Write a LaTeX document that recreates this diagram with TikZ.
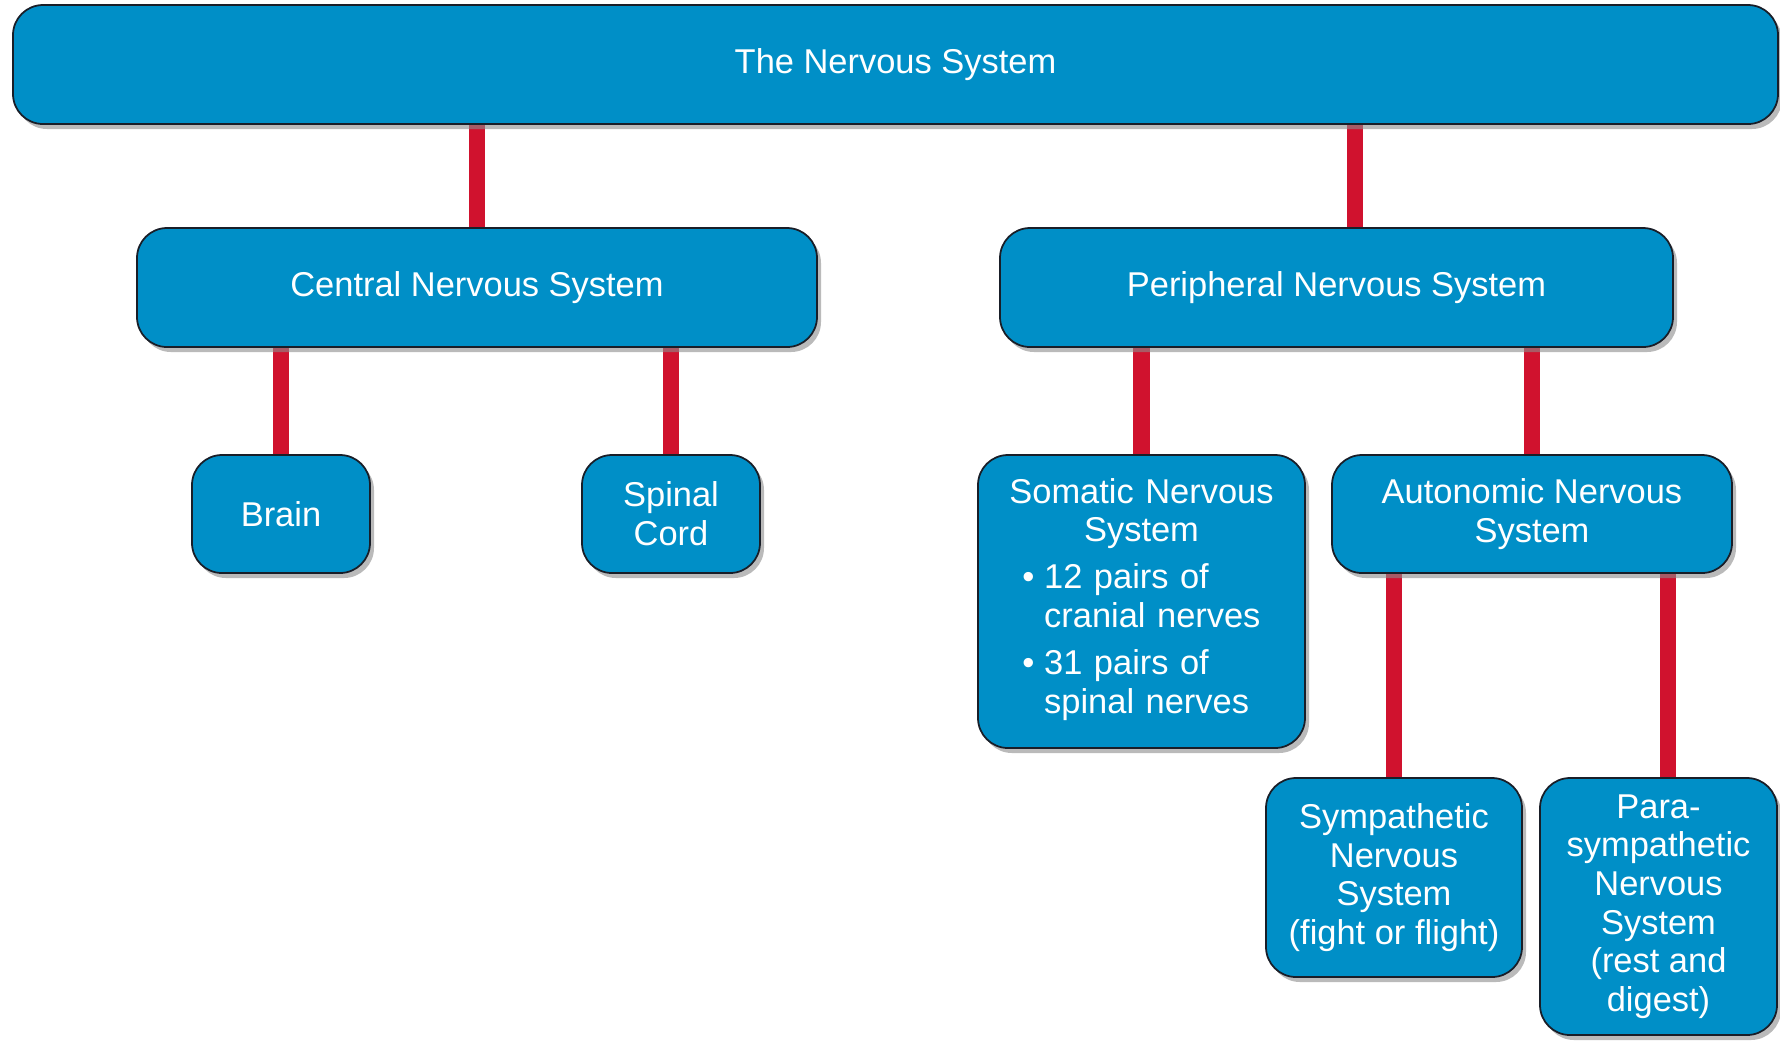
\documentclass[tikz,border=0pt]{standalone}
\usepackage{fontspec}
\setmainfont{Liberation Sans}
\usetikzlibrary{shadows,backgrounds}
\definecolor{nsblue}{RGB}{0,143,199}
\definecolor{nervered}{RGB}{208,18,46}
\definecolor{edge}{RGB}{25,30,40}
\tikzstyle{box} = [rectangle, rounded corners=0.3cm, fill=nsblue, draw=edge, line width=0.5pt, text=white, align=center, inner sep=0pt, font=\fontsize{9.8}{11}\selectfont, drop shadow={shadow xshift=0.4mm, shadow yshift=-0.5mm, fill=black!45, opacity=0.6}]
\tikzstyle{nerve} = [line width=4.6pt, draw=nervered]

\begin{document}
\begin{tikzpicture}

\useasboundingbox (0,0) rectangle (17.8,-10.41);

\node (top) [box, minimum width=17.65cm, minimum height=1.19cm] at (8.955,-0.645) {The Nervous System};
\node (cns) [box, minimum width=6.8cm, minimum height=1.19cm] at (4.77,-2.875) {Central Nervous System};
\node (pns) [box, minimum width=6.73cm, minimum height=1.19cm] at (13.365,-2.875) {Peripheral Nervous System};
\node (brain) [box, minimum width=1.78cm, minimum height=1.18cm] at (2.81,-5.14) {Brain};
\node (spinal) [box, minimum width=1.78cm, minimum height=1.18cm] at (6.71,-5.14) {Spinal\\Cord};
\node (somatic) [box, text width=3.27cm, minimum height=2.93cm] at (11.415,-6.015) {Somatic Nervous\\System\\[2.6pt]
  \begin{tabular}{@{}l@{\hspace{0.28em}}l@{}}
  \textbullet & 12 pairs of\\
              & cranial nerves\\[2.4pt]
  \textbullet & 31 pairs of\\
              & spinal nerves
  \end{tabular}};
\node (autonomic) [box, minimum width=4cm, minimum height=1.18cm] at (15.32,-5.14) {Autonomic Nervous\\System};
\node (symp) [box, minimum width=2.56cm, minimum height=1.99cm] at (13.94,-8.775) {Sympathetic\\Nervous\\System\\(fight or flight)};
\node (para) [box, minimum width=2.37cm, minimum height=2.57cm] at (16.585,-9.065) {Para-\\sympathetic\\Nervous\\System\\(rest and\\digest)};

\coordinate (pnsin) at ([xshift=1.85mm]pns.north);
\coordinate (parain) at ([xshift=0.95mm]para.north);

\begin{scope}[on background layer]
\draw [nerve] (top.south -| cns.north) -- (cns.north);
\draw [nerve] (top.south -| pnsin) -- (pnsin);
\draw [nerve] (cns.south -| brain.north) -- (brain.north);
\draw [nerve] (cns.south -| spinal.north) -- (spinal.north);
\draw [nerve] (pns.south -| somatic.north) -- (somatic.north);
\draw [nerve] (pns.south -| autonomic.north) -- (autonomic.north);
\draw [nerve] (autonomic.south -| symp.north) -- (symp.north);
\draw [nerve] (autonomic.south -| parain) -- (parain);
\end{scope}

\end{tikzpicture}
\end{document}
